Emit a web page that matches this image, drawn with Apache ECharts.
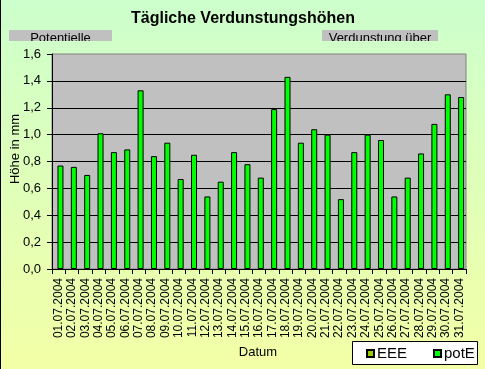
<!DOCTYPE html>
<html>
<head>
<meta charset="utf-8">
<script src="https://cdn.jsdelivr.net/npm/echarts@6/dist/echarts.min.js"></script>
<style>
html,body{margin:0;padding:0;}
#c{width:485px;height:369px;}
</style>
</head>
<body>
<div id="c"></div>
<script>
var categories = ["01.07.2004","02.07.2004","03.07.2004","04.07.2004","05.07.2004","06.07.2004","07.07.2004","08.07.2004","09.07.2004","10.07.2004","11.07.2004","12.07.2004","13.07.2004","14.07.2004","15.07.2004","16.07.2004","17.07.2004","18.07.2004","19.07.2004","20.07.2004","21.07.2004","22.07.2004","23.07.2004","24.07.2004","25.07.2004","26.07.2004","27.07.2004","28.07.2004","29.07.2004","30.07.2004","31.07.2004"];
var potE = [0.77,0.76,0.70,1.01,0.87,0.89,1.33,0.84,0.94,0.67,0.85,0.54,0.65,0.87,0.78,0.68,1.19,1.43,0.94,1.04,1.00,0.52,0.87,1.00,0.96,0.54,0.68,0.86,1.08,1.30,1.28];
var EEE = ["-","-","-","-","-","-","-","-","-","-","-","-","-","-","-","-","-","-","-","-","-","-","-","-","-","-","-","-","-","-","-"];
var yTicks = {min: 0, max: 1.6, interval: 0.2};
var titleText = "Tägliche Verdunstungshöhen";
var yName = "Höhe in mm";
var xName = "Datum";
var boxTexts = ["Potentielle", "Verdunstung über"];

var FONT = "Arial, 'Liberation Sans', sans-serif";
var bgGrad = {type:'linear', x:0, y:0, x2:0, y2:369, global:true,
  colorStops:[{offset:0,color:'#CCFFCC'},{offset:1,color:'#F3FFA6'}]};

var chart = echarts.init(document.getElementById('c'), null, {renderer:'canvas'});
chart.setOption({
  animation: false,
  backgroundColor: {type:'linear', x:0, y:0, x2:0, y2:1,
    colorStops:[{offset:0,color:'#CCFFCC'},{offset:1,color:'#F3FFA6'}]},
  textStyle: {fontFamily: FONT},
  grid: {left:52, right:19, top:54, bottom:100, containLabel:false, outerBoundsMode:'none',
    show:true, backgroundColor:'#C0C0C0', borderColor:'#808080', borderWidth:1},
  legend: {
    show:true, left:366, top:346, orient:'horizontal', itemGap:26,
    itemWidth:7, itemHeight:7, icon:'rect', padding:0,
    textStyle:{fontSize:15, color:'#000', fontFamily:FONT, padding:[0,0,0,-2]},
    data:['EEE','potE']
  },
  xAxis: {
    type:'category', data:categories, boundaryGap:true,
    axisLine:{show:true, lineStyle:{color:'#000', width:1}},
    axisTick:{show:true, length:5, lineStyle:{color:'#000'}},
    axisLabel:{interval:0, rotate:90, margin:9, fontSize:12, color:'#000', fontFamily:FONT},
    splitLine:{show:false}
  },
  yAxis: {
    type:'value', min:yTicks.min, max:yTicks.max, interval:yTicks.interval,
    axisLine:{show:true, lineStyle:{color:'#000', width:1}},
    axisTick:{show:true, length:5, lineStyle:{color:'#000'}},
    axisLabel:{margin:11, fontSize:13, color:'#000', fontFamily:FONT,
      formatter:function(v){return v.toFixed(1).replace('.', ',');}},
    splitLine:{show:true, showMinLine:false, showMaxLine:false, lineStyle:{color:'#000', width:1}}
  },
  series: [
    {name:'EEE', type:'bar', data:EEE, barWidth:6, barGap:'-40%',
      itemStyle:{color:'#99CC00', borderColor:'#000', borderWidth:1}},
    {name:'potE', type:'bar', data:potE, barWidth:6, barGap:'-40%',
      itemStyle:{color:'#00FF00', borderColor:'#000', borderWidth:1}}
  ],
  graphic: [
    {type:'rect', shape:{x:0, y:0, width:1, height:369}, style:{fill:'#000'}, z:100},
    {type:'text', x:243, y:19, style:{text:titleText, font:'bold 16px '+FONT, fill:'#000', textAlign:'center', textVerticalAlign:'middle'}, z:100},
    {type:'rect', shape:{x:9, y:30, width:103, height:11}, style:{fill:'#C0C0C0'}, z:100},
    {type:'text', x:60.5, y:45, style:{text:boxTexts[0], font:'13px '+FONT, fill:'#000', textAlign:'center', textVerticalAlign:'bottom'}, z:101},
    {type:'rect', shape:{x:322, y:30, width:116, height:11}, style:{fill:'#C0C0C0'}, z:100},
    {type:'text', x:380, y:45, style:{text:boxTexts[1], font:'13px '+FONT, fill:'#000', textAlign:'center', textVerticalAlign:'bottom'}, z:101},
    {type:'rect', shape:{x:5, y:41, width:450, height:7}, style:{fill:bgGrad}, z:102},
    {type:'text', x:15, y:149, rotation:Math.PI/2, style:{text:yName, font:'13px '+FONT, fill:'#000', textAlign:'center', textVerticalAlign:'middle'}, z:100},
    {type:'text', x:258, y:352, style:{text:xName, font:'13px '+FONT, fill:'#000', textAlign:'center', textVerticalAlign:'middle'}, z:100},
    {type:'rect', shape:{x:352.5, y:341.5, width:125, height:23}, style:{fill:'#fff', stroke:'#000', lineWidth:1}, z:0, zlevel:0}
  ]
});
</script>
</body>
</html>
